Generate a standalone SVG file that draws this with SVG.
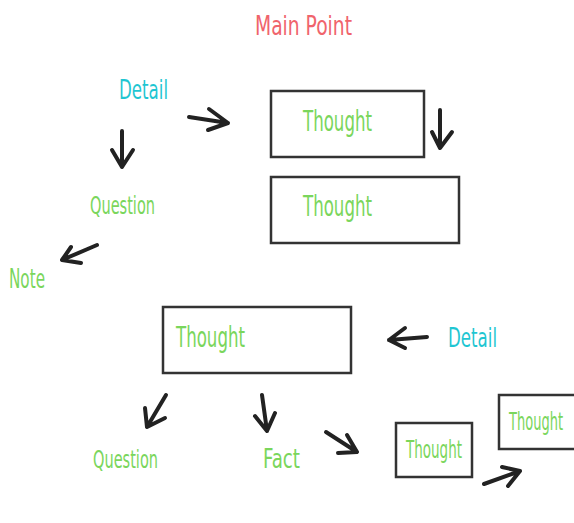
<svg xmlns="http://www.w3.org/2000/svg" width="574" height="523" viewBox="0 0 574 523">
<defs>
<style>
.t{font-family:'Liberation Sans Narrow','DejaVu Sans Condensed','Liberation Sans',sans-serif;}
.red{fill:#f0646c;}
.cyan{fill:#1fc6d2;}
.green{fill:#7ad65c;}
.box{fill:#fff;stroke:#333;stroke-width:2.5;}
.arr{fill:none;stroke:#222;stroke-width:4;stroke-linecap:round;stroke-linejoin:round;}
</style>
</defs>
<rect width="574" height="523" fill="#fff"/>
<g id="main-point"><text class="t red" x="255" y="35" font-size="27" textLength="97" lengthAdjust="spacingAndGlyphs">Main Point</text></g>
<g id="detail-1"><text class="t cyan" x="119" y="99" font-size="27" textLength="49" lengthAdjust="spacingAndGlyphs">Detail</text></g>
<g id="thought-1"><rect class="box" x="271" y="91" width="153" height="66"/><text class="t green" x="303" y="131" font-size="28" textLength="69" lengthAdjust="spacingAndGlyphs">Thought</text></g>
<g id="thought-2"><rect class="box" x="271" y="177" width="188" height="66"/><text class="t green" x="303" y="216" font-size="28" textLength="69" lengthAdjust="spacingAndGlyphs">Thought</text></g>
<g id="question-1"><text class="t green" x="90" y="214" font-size="24" textLength="65" lengthAdjust="spacingAndGlyphs">Question</text></g>
<g id="note"><text class="t green" x="9" y="288" font-size="27" textLength="36" lengthAdjust="spacingAndGlyphs">Note</text></g>
<g id="thought-3"><rect class="box" x="163" y="307" width="188" height="66"/><text class="t green" x="176" y="347" font-size="28" textLength="69" lengthAdjust="spacingAndGlyphs">Thought</text></g>
<g id="detail-2"><text class="t cyan" x="448" y="347" font-size="27" textLength="49" lengthAdjust="spacingAndGlyphs">Detail</text></g>
<g id="question-2"><text class="t green" x="93" y="468" font-size="24" textLength="65" lengthAdjust="spacingAndGlyphs">Question</text></g>
<g id="fact"><text class="t green" x="263" y="468" font-size="26" textLength="37" lengthAdjust="spacingAndGlyphs">Fact</text></g>
<g id="thought-4"><rect class="box" x="396" y="423" width="76" height="54"/><text class="t green" x="406" y="458" font-size="24" textLength="56" lengthAdjust="spacingAndGlyphs">Thought</text></g>
<g id="thought-5"><rect class="box" x="499" y="395" width="80" height="54"/><text class="t green" x="509" y="430" font-size="24" textLength="54" lengthAdjust="spacingAndGlyphs">Thought</text></g>
<g id="connectors">
<path class="arr" d="M189 117 L228 123 M209 109 L228 123 L208 130"/>
<path class="arr" d="M122 131 L122 167 M112 150 L122 167 L133 150"/>
<path class="arr" d="M440 110 L440 148 M432 132 L440 148 L452 132"/>
<path class="arr" d="M97 245 L62 260 M71 247 L62 260 L81 263"/>
<path class="arr" d="M427 337 L389 340 M405 328 L389 340 L405 348"/>
<path class="arr" d="M166 395 L147 427 M145 408 L147 427 L165 418"/>
<path class="arr" d="M262 395 L267 431 M255 416 L267 431 L275 413"/>
<path class="arr" d="M326 432 L357 452 M347 435 L357 452 L338 453"/>
<path class="arr" d="M484 484 L520 471 M502 467 L520 471 L508 486"/>
</g>
</svg>
